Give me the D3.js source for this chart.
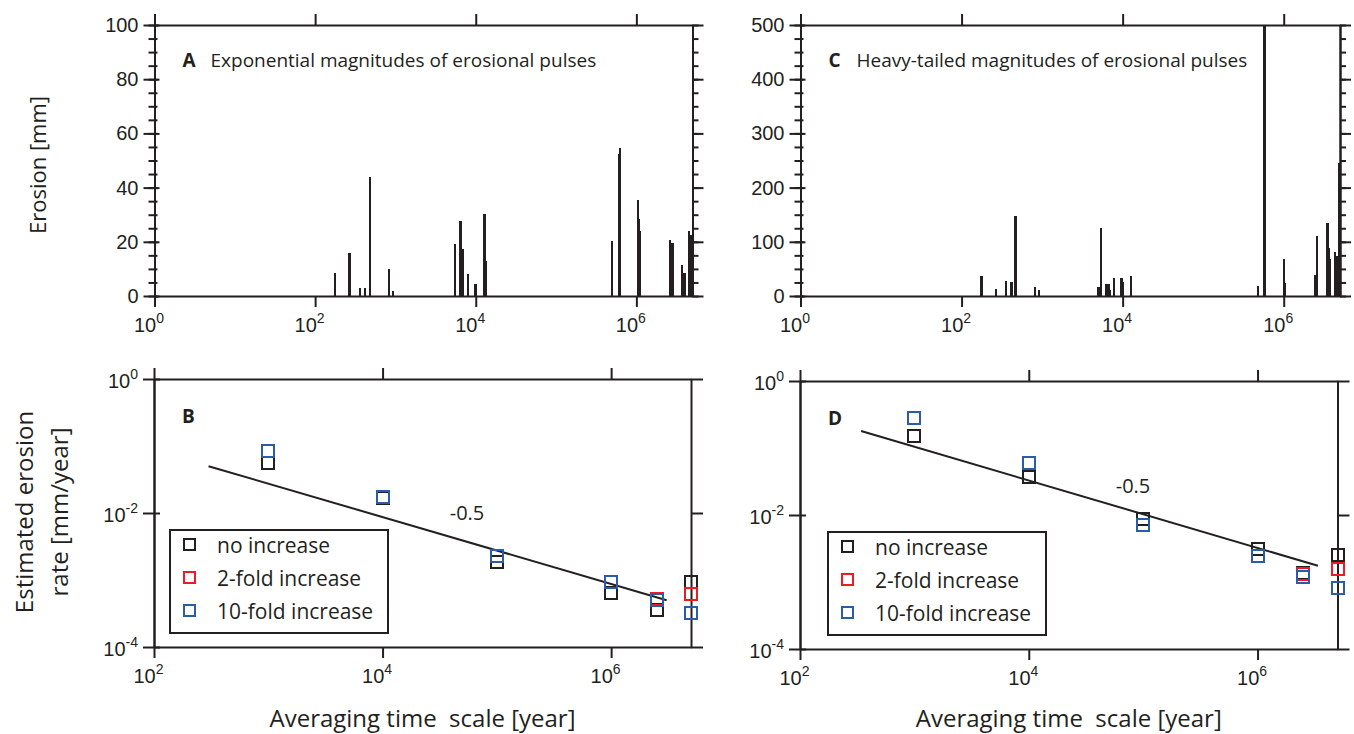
<!DOCTYPE html>
<html>
<head>
<meta charset="utf-8">
<script src="https://cdn.jsdelivr.net/npm/d3@7"></script>
<style>
  body { margin: 0; background: #fff; }
  svg text { font-family: "Open Sans", sans-serif; fill: #231f20; }
  .tick line, .domain { stroke: #231f20; stroke-width: 2; }
  .num { font-family: "Liberation Sans", Arial, sans-serif; font-size: 20px; }
</style>
</head>
<body>
<div id="fig"></div>
<script>
// Erosional pulses, panel A (exponential magnitudes): time [yr], erosion [mm]
let timesA = [177, 267, 359, 418, 483, 832, 927, 5470, 6440, 6820, 8020, 9910, 12800, 13500,
  498000, 604000, 621000, 1050000, 1080000, 1110000, 2610000, 2830000, 3690000, 3960000,
  4530000, 4760000, 4950000];
let erosionA = [8.4, 15.8, 2.8, 3.0, 44.0, 9.8, 2.0, 19.2, 27.6, 17.2, 8.0, 4.4, 30.1, 13,
  20.3, 52.3, 54.5, 35.4, 28.5, 24, 20.7, 19.4, 11.4, 8.4,
  24, 22.5, 21.5];

// Panel C (heavy-tailed magnitudes)
let timesC = [176, 266, 354, 415, 470, 822, 914, 5030, 5370, 6250, 6670, 6980, 7870, 9680, 10100, 12700,
  476000, 567000, 580000, 1000000, 1040000, 2480000, 2610000, 3500000, 3620000, 3740000,
  4320000, 4500000, 4680000, 4950000];
let erosionC = [36.9, 12.3, 27.7, 25.8, 148, 17.2, 11, 17, 125, 22, 22, 11, 32.6, 32.6, 26.4, 36.9,
  18.5, 54, 520, 67.7, 24, 38.7, 110, 134, 88, 67.7,
  80.6, 73, 54, 245];

// Averaging time scales and estimated rates [mm/year]
let windows = [1e3, 1e4, 1e5, 1e6, 2.5e6, 5e6];
let noIncB   = [0.0557, 0.0168, 0.00187, 6.3e-4, 3.6e-4, 9.4e-4];
let twoFoldB = [0.085, 0.0175, 0.00228, 9.4e-4, 5.25e-4, 6.1e-4];
let tenFoldB = [0.085, 0.0175, 0.00228, 9.4e-4, 5.0e-4, 3.25e-4];
let noIncD   = [0.151, 0.0365, 0.0086, 3.07e-3, 1.35e-3, 2.53e-3];
let twoFoldD = [0.277, 0.060, 0.0072, 2.45e-3, 1.3e-3, 1.58e-3];
let tenFoldD = [0.277, 0.060, 0.0072, 2.45e-3, 1.2e-3, 8.05e-4];

// -0.5 slope reference lines (end points)
let fitTimesB = [300, 3.06e6], fitRateB = [0.05, 5.0e-4];
let fitTimesD = [342, 3.37e6], fitRateD = [0.179, 1.75e-3];

let seriesNames = ["no increase", "2-fold increase", "10-fold increase"];
let seriesColors = ["#231f20", "#ed1c24", "#2b5caa"];

let pulseTicks = [1, 1e2, 1e4, 1e6];
let rateXTicks = [1e2, 1e4, 1e6];
let rateYTicks = [1e-4, 1e-2, 1];

let svgWidth = 1354, svgHeight = 734;
let svg = d3.select("#fig").append("svg")
  .attr("width", svgWidth)
  .attr("height", svgHeight);

// "10" with a superscript exponent
function powLabel(sel, d) {
  sel.append("tspan").text("10");
  sel.append("tspan").attr("dy", -9).style("font-size", "14px")
    .text(Math.round(Math.log10(d)));
}

function xAxes(g, x, ticks, top, bottom) {
  g.append("g").attr("transform", `translate(0,${top})`)
    .call(d3.axisTop(x).tickValues(ticks).tickSize(11).tickSizeOuter(0).tickFormat(""));
  let b = g.append("g").attr("transform", `translate(0,${bottom})`)
    .call(d3.axisBottom(x).tickValues(ticks).tickSize(11).tickSizeOuter(0).tickFormat(""));
  b.selectAll(".tick text").remove();
  b.selectAll(".tick").append("text")
    .attr("class", "num")
    .attr("x", -6).attr("y", 36)
    .attr("text-anchor", "middle")
    .each(function(d) { powLabel(d3.select(this), d); });
}

function spikePanel(p) {
  let x = d3.scaleLog().domain([1, 5e6]).range([p.x0, p.x1]);
  let y = d3.scaleLinear().domain([0, p.yMax]).range([296, 25]);
  let g = svg.append("g");
  let major = d3.range(0, p.yMax + 1, p.yMax / 5);
  let minor = d3.range(0, p.yMax + 1, p.yMax / 20);

  g.append("clipPath").attr("id", "clip" + p.label)
    .append("rect").attr("x", p.x0).attr("y", 25).attr("width", p.x1 - p.x0).attr("height", 271);

  g.append("g").attr("clip-path", `url(#clip${p.label})`)
    .selectAll("line")
    .data(p.times)
    .enter()
    .append("line")
    .attr("x1", d => x(d)).attr("x2", d => x(d))
    .attr("y1", y(0))
    .attr("y2", (d, i) => y(p.values[i]))
    .attr("stroke", "#231f20")
    .attr("stroke-width", 2.4)
    .attr("shape-rendering", "crispEdges");

  // left axis, ticks crossing the line
  let left = g.append("g").attr("transform", `translate(${p.x0},0)`);
  left.append("g").call(d3.axisLeft(y).tickValues(minor).tickSize(6).tickSizeOuter(0).tickFormat(""));
  left.append("g").call(d3.axisRight(y).tickValues(minor).tickSize(3).tickSizeOuter(0).tickFormat(""));
  left.append("g").call(d3.axisRight(y).tickValues(major).tickSize(5).tickSizeOuter(0).tickFormat(""));
  left.append("g").call(d3.axisLeft(y).tickValues(major).tickSize(11).tickSizeOuter(0).tickPadding(5))
    .selectAll("text").attr("class", "num");

  let right = g.append("g").attr("transform", `translate(${p.x1},0)`);
  right.append("g").call(d3.axisRight(y).tickValues(minor).tickSize(6).tickSizeOuter(0).tickFormat(""));
  right.append("g").call(d3.axisRight(y).tickValues(major).tickSize(11).tickSizeOuter(0).tickFormat(""));

  xAxes(g, x, pulseTicks, 25, 296);

  g.append("text").attr("x", p.x0 + 28).attr("y", 67)
    .style("font-weight", "bold").style("font-size", "19px").text(p.label);
  g.append("text").attr("x", p.x0 + 56).attr("y", 67)
    .style("font-size", "19px").text(p.title);
}

function ratePanel(p) {
  let x = d3.scaleLog().domain([1e2, 5e6]).range([p.x0, p.x1]);
  let y = d3.scaleLog().domain([1e-4, 1]).range([p.bottom, p.top]);
  let g = svg.append("g");

  let left = g.append("g").attr("transform", `translate(${p.x0},0)`);
  left.append("g").call(d3.axisRight(y).tickValues(rateYTicks).tickSize(6).tickSizeOuter(0).tickFormat(""));
  let ly = left.append("g").call(d3.axisLeft(y).tickValues(rateYTicks).tickSize(11).tickSizeOuter(0).tickFormat(""));
  ly.selectAll(".tick text").remove();
  ly.selectAll(".tick").append("text")
    .attr("class", "num")
    .attr("x", -16).attr("y", 8)
    .attr("text-anchor", "end")
    .each(function(d) { powLabel(d3.select(this), d); });

  g.append("g").attr("transform", `translate(${p.x1},0)`)
    .call(d3.axisRight(y).tickValues(rateYTicks).tickSize(12).tickSizeOuter(0).tickFormat(""));

  xAxes(g, x, rateXTicks, p.top, p.bottom);

  g.append("path")
    .attr("d", d3.line().x(d => x(d)).y((d, i) => y(p.fitRate[i]))(p.fitTimes))
    .attr("fill", "none").attr("stroke", "#231f20").attr("stroke-width", 2);

  p.series.forEach((vals, k) => {
    g.append("g").selectAll("rect")
      .data(windows)
      .enter()
      .append("rect")
      .attr("x", d => Math.round(x(d)) - 6).attr("y", (d, i) => Math.round(y(vals[i])) - 6)
      .attr("width", 12).attr("height", 12)
      .attr("fill", "none")
      .attr("stroke", seriesColors[k])
      .attr("stroke-width", 2)
      .attr("shape-rendering", "crispEdges");
  });

  g.append("text").attr("x", p.x0 + 28).attr("y", p.top + 44)
    .style("font-weight", "bold").style("font-size", "19px").text(p.label);
  g.append("text").attr("x", p.slopeX).attr("y", p.slopeY)
    .attr("text-anchor", "middle").style("font-size", "20px").text("-0.5");

  // legend
  let lg = g.append("g").attr("transform", `translate(${p.legX},${p.legY})`);
  lg.append("rect").attr("width", 218).attr("height", 103)
    .attr("fill", "#fff").attr("stroke", "#231f20").attr("stroke-width", 2);
  let item = lg.selectAll("g.item")
    .data(seriesNames)
    .enter()
    .append("g")
    .attr("transform", (d, i) => `translate(0,${15 + i * 33})`);
  item.append("rect")
    .attr("x", 14).attr("y", -6).attr("width", 11).attr("height", 11)
    .attr("fill", "none").attr("stroke", (d, i) => seriesColors[i]).attr("stroke-width", 2)
    .attr("shape-rendering", "crispEdges");
  item.append("text").attr("x", 47).attr("y", 8)
    .style("font-size", "21px").text(d => d);

  g.append("text")
    .attr("x", (p.x0 + p.x1) / 2).attr("y", 727)
    .attr("text-anchor", "middle")
    .attr("xml:space", "preserve")
    .style("font-size", "24px").style("white-space", "pre")
    .text("Averaging time  scale [year]");
}

spikePanel({ x0: 154.5, x1: 692.5, yMax: 100, times: timesA, values: erosionA,
  label: "A", title: "Exponential magnitudes of erosional pulses" });
spikePanel({ x0: 800.5, x1: 1340, yMax: 500, times: timesC, values: erosionC,
  label: "C", title: "Heavy-tailed magnitudes of erosional pulses" });

ratePanel({ x0: 154, x1: 691, top: 379, bottom: 647, label: "B",
  series: [noIncB, twoFoldB, tenFoldB], fitTimes: fitTimesB, fitRate: fitRateB,
  slopeX: 467, slopeY: 520, legX: 170, legY: 530 });
ratePanel({ x0: 800, x1: 1337.5, top: 381, bottom: 649, label: "D",
  series: [noIncD, twoFoldD, tenFoldD], fitTimes: fitTimesD, fitRate: fitRateD,
  slopeX: 1133, slopeY: 493, legX: 828, legY: 532 });

// y axis titles
svg.append("text")
  .attr("transform", "translate(46,165) rotate(-90)")
  .attr("text-anchor", "middle").style("font-size", "22px")
  .text("Erosion [mm]");
svg.append("text")
  .attr("transform", "translate(33,512) rotate(-90)")
  .attr("text-anchor", "middle").style("font-size", "24px")
  .text("Estimated erosion");
svg.append("text")
  .attr("transform", "translate(68,512) rotate(-90)")
  .attr("text-anchor", "middle").style("font-size", "24px")
  .text("rate [mm/year]");
</script>
</body>
</html>
